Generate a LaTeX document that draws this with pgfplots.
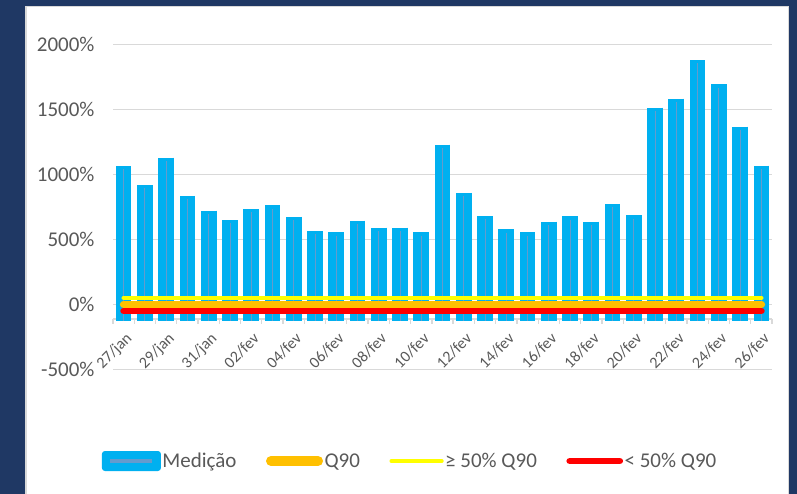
\documentclass[border=0pt]{standalone}
\usepackage{fontspec}
\setmainfont{Carlito}
\usepackage{pgfplots}
\usepackage{pgfplotstable}
\pgfplotsset{compat=1.18}
\definecolor{navy}{RGB}{31,56,100}
\definecolor{barblue}{RGB}{0,176,240}
\definecolor{q90}{RGB}{255,192,0}
\definecolor{yel}{RGB}{255,255,0}
\definecolor{redl}{RGB}{255,0,0}
\definecolor{gridg}{RGB}{217,217,217}
\definecolor{txt}{RGB}{89,89,89}
\definecolor{midline}{RGB}{100,155,205}
\pgfplotsset{
  lineleg/.style={legend image code/.code={\draw[##1] (3bp,0bp) -- (53bp,0bp);}},
  q90leg/.style={legend image code/.code={\draw[##1, line width=10bp] (5bp,0bp) -- (52bp,0bp);}},
  barleg/.style={legend image code/.code={\fill[barblue, rounded corners=3bp] (0bp,-10bp) rectangle (59bp,10bp);
    \draw[midline, line width=4bp] (8bp,0bp) -- (50bp,0bp);}},
}

\pgfplotstableread{
x v
0 1064
1 918
2 1131
3 836
4 723
5 649
6 733
7 762
8 674
9 564
10 554
11 646
12 592
13 592
14 555
15 1231
16 858
17 679
18 577
19 554
20 638
21 677
22 638
23 774
24 685
25 1515
26 1585
27 1882
28 1695
29 1369
30 1069
}\med

\begin{document}
\begin{tikzpicture}
\fill[navy] (0bp,0bp) rectangle (797bp,494bp);
\fill[white] (25bp,0bp) rectangle (789bp,488bp);
\draw[gridg, line width=1.5bp] (26bp,0bp) -- (26bp,487.3bp) -- (788.3bp,487.3bp) -- (788.3bp,0bp);
\begin{axis}[
  at={(113bp,124.7bp)}, anchor=south west,
  scale only axis, width=659bp, height=324.6bp,
  xmin=-0.5, xmax=30.5, ymin=-500, ymax=2000,
  axis x line*=bottom, axis y line*=left,
  axis x line shift=-50.05bp,
  x axis line style={gridg, line width=1.5bp, -},
  y axis line style={draw=none},
  ymajorgrids, grid style={gridg, line width=1.5bp},
  ytick={-500,0,500,1000,1500,2000},
  yticklabels={-500\%,0\%,500\%,1000\%,1500\%,2000\%},
  yticklabel style={anchor=east, xshift=-15bp, text=txt, font=\fontsize{21bp}{24bp}\selectfont},
  ytick style={draw=none},
  xtick={0,2,...,30},
  xticklabels={27/jan,29/jan,31/jan,02/fev,04/fev,06/fev,08/fev,10/fev,12/fev,14/fev,16/fev,18/fev,20/fev,22/fev,24/fev,26/fev},
  xticklabel style={yshift=-10bp, xshift=1bp, rotate=45, anchor=north east, text=txt, inner sep=1.5bp, font=\fontsize{16bp}{19bp}\selectfont},
  major tick length=0pt,
  minor tick length=4.5bp,
  minor xtick={-0.5,0.5,...,30.5},
  xtick align=outside,
  minor tick style={gridg, line width=1.3bp},
  legend columns=4,
  legend style={at={(-0.0171,-0.2825)}, anchor=west, draw=none, fill=none, inner sep=0pt,
    font=\fontsize{21bp}{24bp}\selectfont, text=txt,
    /tikz/every even column/.append style={column sep=28bp},
    nodes={inner sep=1.5bp}},
  legend cell align=left,
  clip=false,
]
\addplot[draw=none, mark=none, barleg,
  error bars/.cd, y dir=minus, y explicit, error mark=none,
  error bar style={draw=barblue, line width=15.7bp}]
  table[x=x, y=v, y error expr=\thisrow{v}+125] {\med};
\addlegendentry{Medição}
\addplot[forget plot, draw=none, mark=none,
  error bars/.cd, y dir=minus, y explicit, error mark=none,
  error bar style={draw=midline, line width=0.8bp}]
  table[x=x, y expr=\thisrow{v}-25, y error expr=\thisrow{v}+100] {\med};
\addplot[q90, line width=7.5bp, line cap=round, q90leg] coordinates {(0,0) (30,0)};
\addlegendentry{Q90}
\addplot[yel, line width=4.3bp, line cap=round, lineleg] coordinates {(0,50) (30,50)};
\addlegendentry{≥ 50\% Q90}
\addplot[redl, line width=6.7bp, line cap=round, lineleg] coordinates {(0,-50) (30,-50)};
\addlegendentry{< 50\% Q90}
\end{axis}
\pgfresetboundingbox
\useasboundingbox (0bp,0bp) rectangle (797bp,494bp);
\end{tikzpicture}
\end{document}
